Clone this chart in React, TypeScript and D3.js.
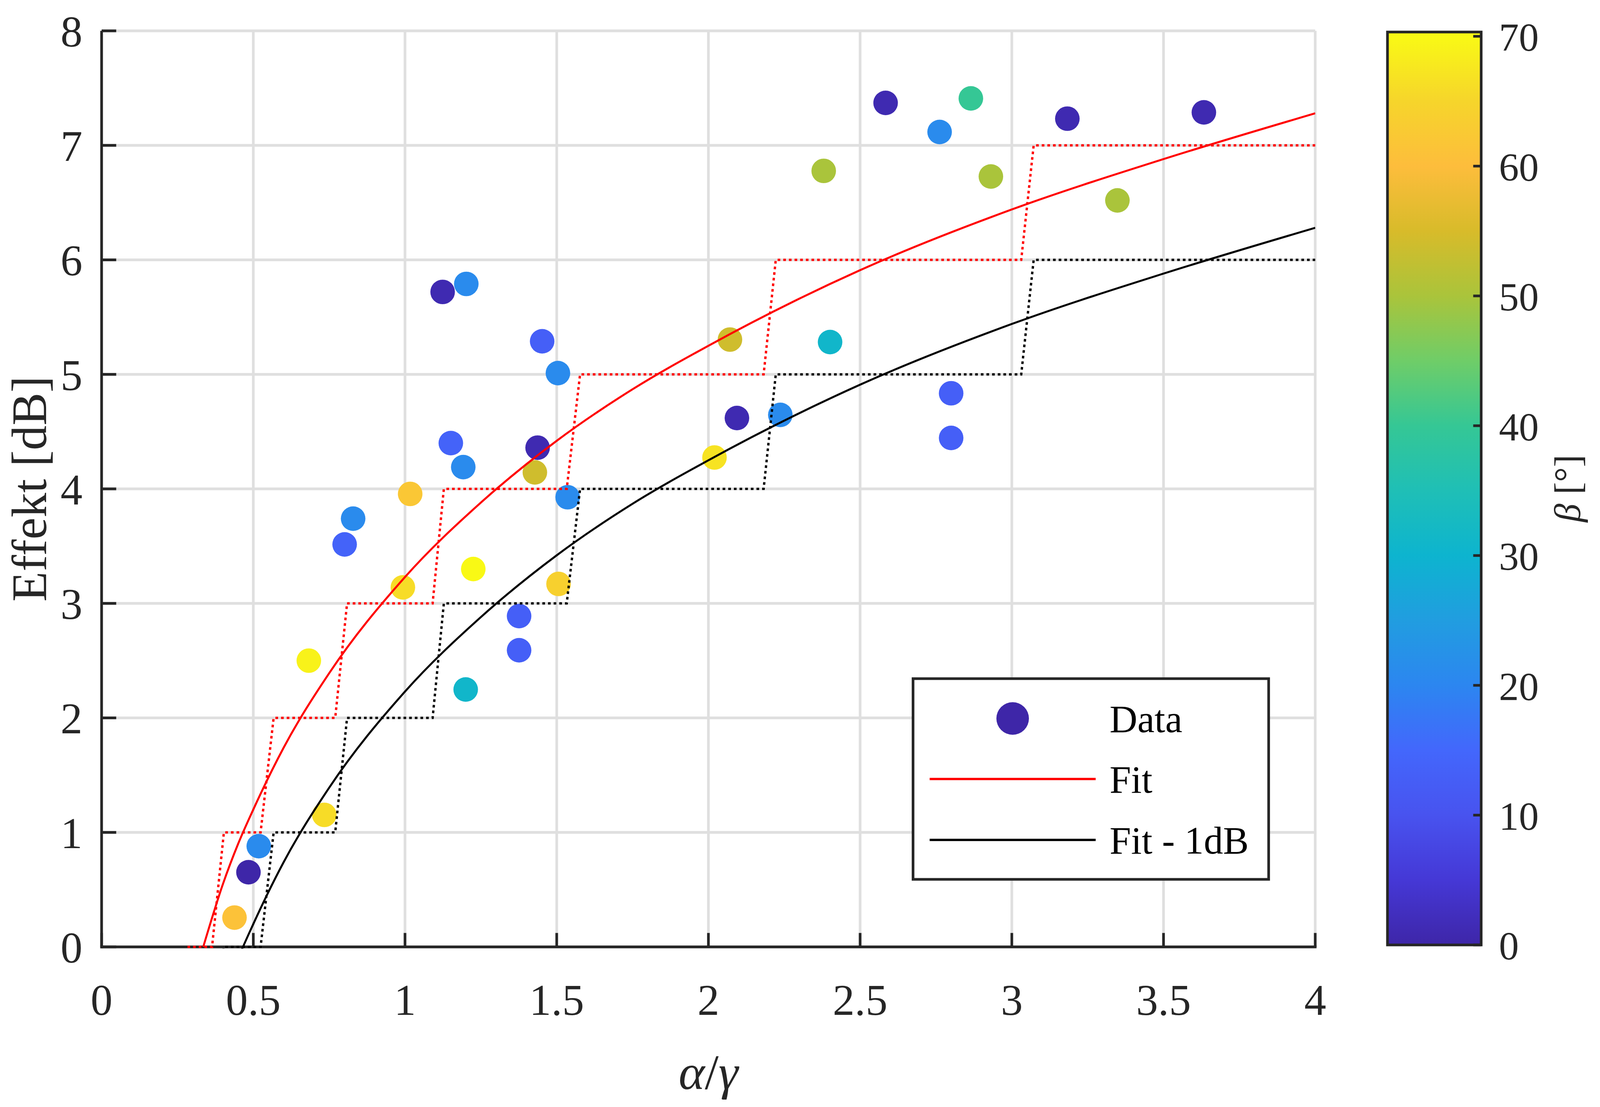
import { useEffect, useState } from 'react';
import * as d3 from 'd3';

// measured data (alpha/gamma, effect in dB, beta in degrees)
const ratioValues = [
  0.438, 0.484, 0.518, 0.683, 0.734, 0.801, 0.829, 0.993, 1.017, 1.124,
  1.202, 1.151, 1.192, 1.225, 1.200, 1.376, 1.376, 1.437, 1.428, 1.452,
  1.504, 1.536, 1.506, 2.020, 2.071, 2.094, 2.237, 2.380, 2.401, 2.584,
  2.762, 2.865, 2.931, 3.183, 3.348, 3.633, 2.800, 2.800,
];
const effectValues = [
  0.256, 0.652, 0.880, 2.500, 1.153, 3.515, 3.740, 3.140, 3.956, 5.720,
  5.790, 4.400, 4.190, 3.300, 2.248, 2.889, 2.591, 4.360, 4.144, 5.289,
  5.011, 3.927, 3.170, 4.274, 5.304, 4.619, 4.646, 6.777, 5.282, 7.371,
  7.117, 7.410, 6.728, 7.233, 6.519, 7.288, 4.835, 4.445,
];
const betaValues = [
  61, 0, 21, 69, 66, 14, 21, 66, 62, 1,
  21, 14, 21, 70, 31, 13, 13, 1, 54, 13,
  21, 21, 64, 67, 54, 1, 21, 50, 31, 1,
  21, 40, 50, 1, 50, 1, 13, 13,
];

// fitted curve
const fitX = [0.335, 0.4, 0.45, 0.5, 0.6, 0.75, 1.0, 1.25, 1.5, 1.75, 2.0, 2.5, 3.0, 3.5, 4.0];
const fitY = [0.0, 0.55, 0.9, 1.2, 1.74, 2.39, 3.23, 3.88, 4.42, 4.87, 5.25, 5.91, 6.44, 6.88, 7.28];
const FIT_OFFSET = 1; // "Fit - 1dB"

// rounded fit (dotted staircase)
const stepX = [0.283, 0.364, 0.403, 0.524, 0.567, 0.770, 0.809, 1.091, 1.128, 1.533, 1.577, 2.182, 2.222, 3.031, 3.072, 4.0];
const stepLevel = [0, 0, 1, 1, 2, 2, 3, 3, 4, 4, 5, 5, 6, 6, 7, 7];

const xTicks = [0, 0.5, 1, 1.5, 2, 2.5, 3, 3.5, 4];
const yTicks = [0, 1, 2, 3, 4, 5, 6, 7, 8];
const cbTicks = [0, 10, 20, 30, 40, 50, 60, 70];
const BETA_MAX = 70.33;

// colormap
const cmapBeta = [0, 5, 10, 15, 20, 25, 30, 35, 40, 45, 50, 55, 60, 65, 70.33];
const cmapColor = [
  '#3e26a8', '#4538d6', '#4853ef', '#4367fc', '#2c86f0', '#219de0', '#0db4cf', '#1fbfb6',
  '#35c795', '#6fcd68', '#aac43b', '#d8bb2a', '#fdbd3c', '#f6d52b', '#f9fb14',
];

// reference frame the layout was measured in
const W = 5669;
const H = 2835;
const FONT = '"Liberation Serif", "Times New Roman", serif';
const AX = '#262626';

function useViewport() {
  const [size, setSize] = useState({ w: window.innerWidth || W, h: window.innerHeight || H });
  useEffect(() => {
    const onResize = () => setSize({ w: window.innerWidth, h: window.innerHeight });
    window.addEventListener('resize', onResize);
    return () => window.removeEventListener('resize', onResize);
  }, []);
  return size;
}

export default function App() {
  const { w, h } = useViewport();
  const sx = w / W;
  const sy = h / H;
  const f = Math.sqrt(sx * sy); // size factor for fonts, markers and strokes
  const X = (v: number) => v * sx;
  const Y = (v: number) => v * sy;

  const xScale = d3.scaleLinear().domain([0, 4]).range([X(360), X(4660)]);
  const yScale = d3.scaleLinear().domain([0, 8]).range([Y(2425), Y(79)]);
  const cScale = d3.scaleLinear().domain([0, BETA_MAX]).range([Y(2420), Y(82)]);
  const color = d3.scaleLinear<string>().domain(cmapBeta).range(cmapColor).clamp(true);

  const curve = d3.line<[number, number]>()
    .x(d => xScale(d[0]))
    .y(d => yScale(d[1]))
    .curve(d3.curveMonotoneX);
  const poly = d3.line<[number, number]>()
    .x(d => xScale(d[0]))
    .y(d => yScale(d[1]));

  const fitPts = fitX.map((x, i) => [x, fitY[i]] as [number, number]);
  const fitLowPts = fitX.map((x, i) => [x, fitY[i] - FIT_OFFSET] as [number, number]);
  const stepPts = stepX.map((x, i) => [x, stepLevel[i]] as [number, number]);
  const stepLowPts = stepX.map((x, i) => [x, stepLevel[i] - FIT_OFFSET] as [number, number]);

  const [x0, x1] = xScale.range();
  const [y0, y1] = yScale.range();
  const lw = 8 * f;

  const tickFont = 132 * f;
  const cbFont = 120 * f;
  const labelFont = 149 * f;
  const legFont = 116 * f;

  // colorbar
  const cbLeft = X(4916);
  const cbRight = X(5248);

  // legend, anchored at its right edge so the text always fits
  const legRight = X(4495);
  const legTop = Y(1738);
  const legBottom = Y(2252);
  const legTextX = legRight - 479 * f;
  const legLineX2 = legTextX - 42 * f;
  const legLineX1 = legLineX2 - 500 * f;
  const legLeft = Math.min(X(3424), legLineX1 - 50 * f);
  const rowY = [Y(1840), Y(1995), Y(2151)];
  const dash = `${8 * f} ${9 * f}`;

  return (
    <div>
      <style>{`html,body{margin:0;padding:0;overflow:hidden;background:#fff}`}</style>
      <svg width={w} height={h} style={{ display: 'block' }} fontFamily={FONT}>
        <defs>
          <clipPath id="plot-clip">
            <rect x={x0} y={y1} width={x1 - x0} height={y0 - y1 + lw / 2 + 1} />
          </clipPath>
          <linearGradient id="cmap" x1="0" y1="1" x2="0" y2="0">
            {cmapBeta.map((b, i) => (
              <stop key={i} offset={b / BETA_MAX} stopColor={cmapColor[i]} />
            ))}
          </linearGradient>
        </defs>

        {/* grid */}
        <g stroke="#dfdfdf" strokeWidth={lw}>
          {xTicks.map(t => (
            <line key={'gx' + t} x1={xScale(t)} x2={xScale(t)} y1={y0} y2={y1} />
          ))}
          {yTicks.map(t => (
            <line key={'gy' + t} x1={x0} x2={x1} y1={yScale(t)} y2={yScale(t)} />
          ))}
        </g>

        {/* axes */}
        <g stroke={AX} strokeWidth={lw}>
          <line x1={x0} x2={x0} y1={y0 + lw / 2} y2={y1} />
          <line x1={x0 - lw / 2} x2={x1 + lw / 2} y1={y0} y2={y0} />
          {xTicks.map(t => (
            <line key={'tx' + t} x1={xScale(t)} x2={xScale(t)} y1={y0} y2={y0 - 42 * f} />
          ))}
          {yTicks.map(t => (
            <line key={'ty' + t} x1={x0} x2={x0 + 44 * f} y1={yScale(t)} y2={yScale(t)} />
          ))}
        </g>
        <g fill={AX} fontSize={tickFont}>
          {xTicks.map(t => (
            <text key={'lx' + t} x={xScale(t)} y={y0 + Y(98) + 0.68 * tickFont} textAnchor="middle">{t}</text>
          ))}
          {yTicks.map(t => (
            <text key={'ly' + t} x={x0 - X(68)} y={yScale(t) + 0.356 * tickFont} textAnchor="end">{t}</text>
          ))}
        </g>

        {/* scatter */}
        <g>
          {ratioValues.map((r, i) => (
            <circle key={i} cx={xScale(r)} cy={yScale(effectValues[i])} r={37 * f} fill={color(betaValues[i])} />
          ))}
        </g>

        {/* fits */}
        <g clipPath="url(#plot-clip)" fill="none">
          <path d={poly(stepPts) ?? ''} stroke="#ff0000" strokeWidth={7 * f} strokeDasharray={dash} />
          <path d={poly(stepLowPts) ?? ''} stroke="#000000" strokeWidth={7 * f} strokeDasharray={dash} />
          <path d={curve(fitPts) ?? ''} stroke="#ff0000" strokeWidth={6 * f} />
          <path d={curve(fitLowPts) ?? ''} stroke="#000000" strokeWidth={6 * f} />
        </g>

        {/* axis labels */}
        <text x={(x0 + x1) / 2} y={Y(2789)} textAnchor="middle" fontSize={150 * f} fill={AX}>
          <tspan fontStyle="italic">α</tspan>/<tspan fontStyle="italic">γ</tspan>
        </text>
        <text
          transform={`translate(${X(36) + 0.73 * labelFont},${(y0 + y1) / 2}) rotate(-90)`}
          textAnchor="middle" fontSize={labelFont} fill={AX}
        >
          Effekt [dB]
        </text>

        {/* legend */}
        <g>
          <rect x={legLeft} y={legTop} width={legRight - legLeft} height={legBottom - legTop}
            fill="#fff" stroke={AX} strokeWidth={lw} />
          <circle cx={(legLineX1 + legLineX2) / 2} cy={rowY[0]} r={49 * f} fill={color(0)} />
          <line x1={legLineX1} x2={legLineX2} y1={rowY[1]} y2={rowY[1]} stroke="#ff0000" strokeWidth={7 * f} />
          <line x1={legLineX1} x2={legLineX2} y1={rowY[2]} y2={rowY[2]} stroke="#000000" strokeWidth={7 * f} />
          <g fontSize={legFont} fill="#000">
            {['Data', 'Fit', 'Fit - 1dB'].map((s, i) => (
              <text key={s} x={legTextX} y={rowY[i] + 0.35 * legFont}>{s}</text>
            ))}
          </g>
        </g>

        {/* colorbar */}
        <g>
          <rect x={cbLeft} y={cScale(BETA_MAX)} width={cbRight - cbLeft} height={cScale(0) - cScale(BETA_MAX)}
            fill="url(#cmap)" stroke={AX} strokeWidth={lw} />
          <g stroke={AX} strokeWidth={lw}>
            {cbTicks.map(t => (
              <line key={'ct' + t} x1={cbRight} x2={cbRight - 24 * f} y1={cScale(t)} y2={cScale(t)} />
            ))}
          </g>
          <g fontSize={cbFont} fill={AX}>
            {cbTicks.map(t => (
              <text key={'cl' + t} x={X(5311)} y={cScale(t) + 0.367 * cbFont}>{t}</text>
            ))}
          </g>
          <text
            transform={`translate(${X(5627) - 0.22 * 112 * f},${(cScale(0) + cScale(BETA_MAX)) / 2}) rotate(-90)`}
            textAnchor="middle" fontSize={112 * f} fill={AX}
          >
            <tspan fontStyle="italic">β</tspan> [°]
          </text>
        </g>
      </svg>
    </div>
  );
}
